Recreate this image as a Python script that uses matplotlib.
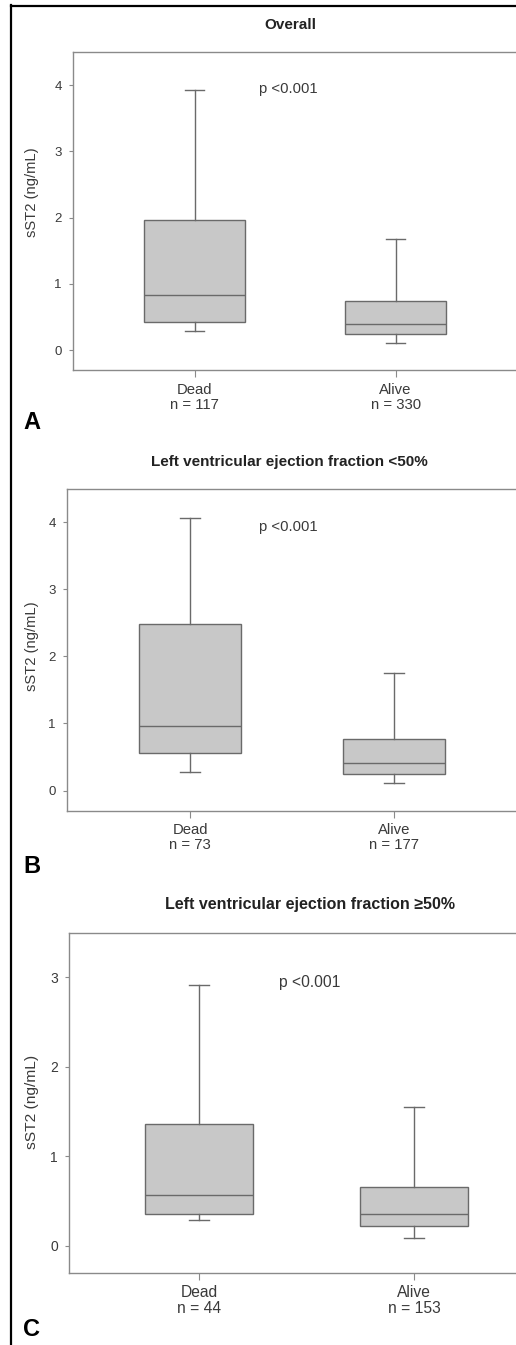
import matplotlib
matplotlib.use("Agg")
from matplotlib import pyplot as plt
from matplotlib.lines import Line2D

plt.rcParams['font.family'] = ['Liberation Sans', 'DejaVu Sans']

W, H = 516, 1345

groups = ["Dead", "Alive"]
titles = ["Overall", "Left ventricular ejection fraction <50%",
          "Left ventricular ejection fraction \u226550%"]
letters = ["A", "B", "C"]
counts = [[117, 330], [73, 177], [44, 153]]

# box statistics: whisker low, Q1, median, Q3, whisker high
dead_stats = [[0.29, 0.42, 0.83, 1.96, 3.93],
              [0.27, 0.56, 0.97, 2.48, 4.06],
              [0.29, 0.36, 0.57, 1.36, 2.91]]
alive_stats = [[0.11, 0.24, 0.39, 0.74, 1.68],
               [0.12, 0.25, 0.41, 0.77, 1.75],
               [0.09, 0.22, 0.36, 0.66, 1.55]]
y_tops = [4.5, 4.5, 3.5]
y_ticks = [[0, 1, 2, 3, 4], [0, 1, 2, 3, 4], [0, 1, 2, 3]]
p_label = "p <0.001"

# pixel layout of each panel: axes left, top, bottom, px per category
panels = [dict(left=73, top=52, bottom=370, step=201, title=(290, 25),
               ylab=(32, 192), p=(259, 89), letter=429, scale=1.0),
          dict(left=66.7, top=488.7, bottom=810.7, step=204, title=(289, 462),
               ylab=(31.7, 646), p=(259, 527), letter=873, scale=1.0),
          dict(left=69, top=932.7, bottom=1272.7, step=215, title=(310, 904),
               ylab=(31.7, 1102), p=(279, 982), letter=1336, scale=1.05)]

fig = plt.figure(figsize=(W / 100, H / 100), dpi=100)

text_c = "#3a3a3a"
spine_c = "#8a8a8a"
edge_c = "#6a6a6a"
fill_c = "#c8c8c8"

for i, pn in enumerate(panels):
    s = pn["scale"]
    xmin, xmax = 0.395, 2.605
    width_px = (xmax - xmin) * pn["step"]
    ax = fig.add_axes([pn["left"] / W, 1 - pn["bottom"] / H,
                       width_px / W, (pn["bottom"] - pn["top"]) / H])
    stats = []
    for st, g, n in zip([dead_stats[i], alive_stats[i]], groups, counts[i]):
        stats.append(dict(whislo=st[0], q1=st[1], med=st[2], q3=st[3],
                          whishi=st[4], fliers=[], label=f"{g}\nn = {n}"))
    ax.bxp(stats, positions=[1, 2], widths=0.5, capwidths=0.095,
           patch_artist=True, showfliers=False,
           boxprops=dict(facecolor=fill_c, edgecolor=edge_c, linewidth=1.0),
           medianprops=dict(color=edge_c, linewidth=1.0),
           whiskerprops=dict(color=edge_c, linewidth=1.0),
           capprops=dict(color=edge_c, linewidth=1.0))
    ax.set_xlim(xmin, xmax)
    ax.set_ylim(-0.3, y_tops[i])
    ax.set_yticks(y_ticks[i])
    for sp in ax.spines.values():
        sp.set_color(spine_c)
        sp.set_linewidth(1.0)
    ax.tick_params(axis='y', direction='out', length=3, width=0.8,
                   color=spine_c, labelcolor=text_c, labelsize=9.5 * s, pad=5)
    ax.tick_params(axis='x', direction='out', length=5, width=0.8,
                   color=spine_c, labelcolor=text_c, labelsize=10.7 * s, pad=4)
    for lab in ax.get_xticklabels():
        lab.set_linespacing(1.1)

    fig.text(pn["title"][0] / W, 1 - pn["title"][1] / H, titles[i],
             ha='center', va='center', fontsize=11 * s, fontweight='bold',
             color="#222222")
    fig.text(pn["ylab"][0] / W, 1 - pn["ylab"][1] / H, "sST2 (ng/mL)",
             rotation=90, ha='center', va='center', fontsize=10.6 * s,
             color=text_c)
    fig.text(pn["p"][0] / W, 1 - pn["p"][1] / H, p_label, ha='left',
             va='center', fontsize=10.7 * s, color=text_c)
    fig.text(23 / W, 1 - pn["letter"] / H, letters[i], ha='left',
             va='baseline', fontsize=17, fontweight='bold', color="black")

# black frame on the left and top
fig.add_artist(Line2D([11 / W, 11 / W], [0, 1 - 5 / H], color="black",
                      linewidth=1.6, transform=fig.transFigure))
fig.add_artist(Line2D([11 / W, 1], [1 - 6 / H, 1 - 6 / H], color="black",
                      linewidth=1.6, transform=fig.transFigure))

fig.savefig("out.png", dpi=100)
